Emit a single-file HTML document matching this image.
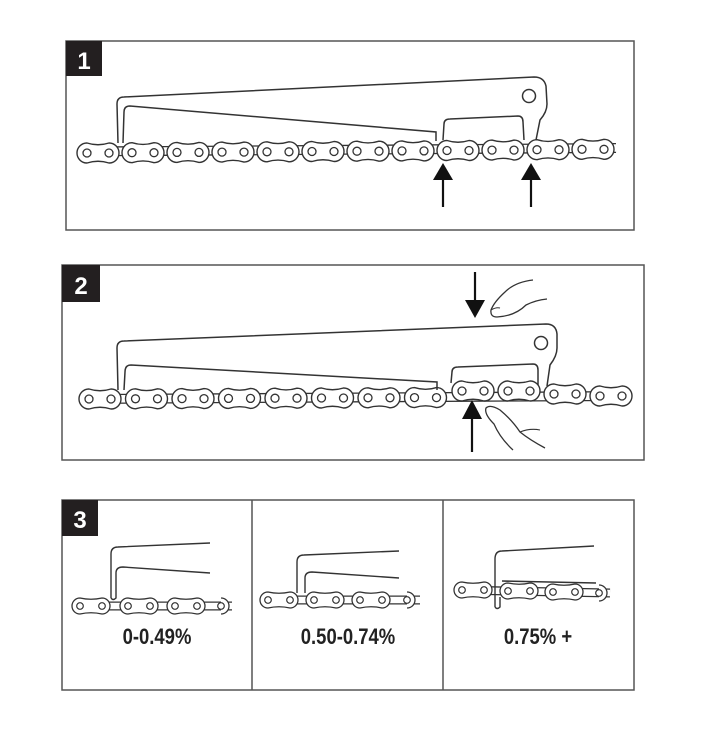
<!DOCTYPE html>
<html><head><meta charset="utf-8"><style>
html,body{margin:0;padding:0;background:#fff;width:711px;height:738px;overflow:hidden}
svg{display:block}
text{font-family:"Liberation Sans",sans-serif}
</style></head><body>
<svg width="711" height="738" viewBox="0 0 711 738" xmlns="http://www.w3.org/2000/svg">
<defs>
<g id="lk">
<path d="M0,-10 Q11,-6.5 22,-10 A10,10 0 0 1 22,10 Q11,6.5 0,10 A10,10 0 0 1 0,-10 Z" fill="#fff" stroke="#333" stroke-width="1.4"/>
<circle cx="0" cy="0" r="4" fill="#fff" stroke="#333" stroke-width="1.3"/>
<circle cx="22" cy="0" r="4" fill="#fff" stroke="#333" stroke-width="1.3"/>
</g>
<g id="sl">
<path d="M0,-8 Q11,-5.5 22,-8 A8,8 0 0 1 22,8 Q11,5.5 0,8 A8,8 0 0 1 0,-8 Z" fill="#fff" stroke="#333" stroke-width="1.3"/>
<circle cx="0" cy="0" r="3.3" fill="#fff" stroke="#333" stroke-width="1.2"/>
<circle cx="22" cy="0" r="3.3" fill="#fff" stroke="#333" stroke-width="1.2"/>
</g>
</defs>

<!-- Panel 1 -->
<rect x="66" y="41" width="568" height="189" fill="#fff" stroke="#555" stroke-width="1.5"/>
<rect x="66" y="41" width="36" height="35" fill="#231f20"/>
<text x="84" y="69" fill="#fff" font-size="24" font-weight="bold" text-anchor="middle">1</text>
<line x1="80" y1="151.5" x2="616" y2="148" stroke="#333" stroke-width="10"/>
<line x1="80" y1="151.5" x2="616" y2="148" stroke="#fff" stroke-width="7.4"/>
<g>
<use href="#lk" x="87" y="153"/><use href="#lk" x="132" y="152.7"/><use href="#lk" x="177" y="152.4"/><use href="#lk" x="222" y="152.1"/><use href="#lk" x="267" y="151.8"/><use href="#lk" x="312" y="151.5"/><use href="#lk" x="357" y="151.2"/><use href="#lk" x="402" y="150.9"/><use href="#lk" x="447" y="150.5"/><use href="#lk" x="492" y="150.1"/><use href="#lk" x="537" y="149.7"/><use href="#lk" x="582" y="149.3"/>
</g>
<path d="M118,143 L117,104 Q117,97 124,97 L534,77 Q544,77 546,86 L547,104 Q547,112 540,120 L536,140" fill="none" stroke="#333" stroke-width="1.5"/>
<path d="M123,143 L124,112 Q124,106 130,106 L436,132 L436,141" fill="none" stroke="#333" stroke-width="1.5"/>
<path d="M443,140 L444,124 Q444,119 450,119 L518,116 Q523,116 523,122 L524,140" fill="none" stroke="#333" stroke-width="1.5"/>
<circle cx="529" cy="96" r="6.5" fill="#fff" stroke="#333" stroke-width="1.5"/>
<path d="M443,207 L443,178" stroke="#111" stroke-width="2.2"/><path d="M433,180 L443,163 L453,180 Z" fill="#111"/>
<path d="M531,207 L531,178" stroke="#111" stroke-width="2.2"/><path d="M521,180 L531,163 L541,180 Z" fill="#111"/>

<!-- Panel 2 -->
<rect x="62" y="265" width="582" height="195" fill="#fff" stroke="#555" stroke-width="1.5"/>
<rect x="62" y="265" width="38" height="37" fill="#231f20"/>
<text x="81" y="294" fill="#fff" font-size="24" font-weight="bold" text-anchor="middle">2</text>
<line x1="80" y1="399" x2="630" y2="396" stroke="#333" stroke-width="10"/>
<line x1="80" y1="399" x2="630" y2="396" stroke="#fff" stroke-width="7.4"/>
<g>
<use href="#lk" x="89" y="399"/><use href="#lk" x="135.5" y="398.8"/><use href="#lk" x="182" y="398.6"/><use href="#lk" x="228.5" y="398.4"/><use href="#lk" x="275" y="398.2"/><use href="#lk" x="321.5" y="398"/><use href="#lk" x="368" y="397.8"/><use href="#lk" x="414.5" y="397.6"/><use href="#lk" x="462" y="391"/><use href="#lk" x="508" y="391"/><use href="#lk" x="554" y="394"/><use href="#lk" x="600" y="396"/>
</g>
<path d="M118,390 L117,348 Q117,341 124,341 L546,324 Q556,324 557,334 L557,348 Q557,356 550,365 L547,386" fill="none" stroke="#333" stroke-width="1.5"/>
<path d="M124,390 L125,372 Q125,365 131,365 L437,382 L437,390" fill="none" stroke="#333" stroke-width="1.5"/>
<path d="M451,383 L452,372 Q452,367 458,367 L533,364 Q538,364 538,370 L538,385" fill="none" stroke="#333" stroke-width="1.5"/>
<circle cx="541" cy="343" r="6.5" fill="#fff" stroke="#333" stroke-width="1.5"/>
<path d="M475,272 L475,302" stroke="#111" stroke-width="2.2"/><path d="M465,300 L475,318 L485,300 Z" fill="#111"/>
<path d="M472,452 L472,418" stroke="#111" stroke-width="2.2"/><path d="M462,419 L472,400 L482,419 Z" fill="#111"/>
<path d="M533,280 Q515,282 505,292 Q494,302 491,310 Q490,317 497,317 Q515,316 526,305 Q536,300 547,299" fill="none" stroke="#333" stroke-width="1.3"/>
<path d="M491,310 Q496,307 500,308" fill="none" stroke="#333" stroke-width="1"/>
<path d="M545,448 Q530,440 520,432 Q512,420 500,410 Q490,404 486,408 Q484,414 494,424 Q500,438 513,450" fill="none" stroke="#333" stroke-width="1.3"/>
<path d="M520,432 Q530,428 540,430" fill="none" stroke="#333" stroke-width="1.1"/>

<!-- Panel 3 -->
<rect x="62" y="500" width="572" height="190" fill="#fff" stroke="#555" stroke-width="1.5"/>
<line x1="252" y1="500" x2="252" y2="690" stroke="#555" stroke-width="1.5"/>
<line x1="443" y1="500" x2="443" y2="690" stroke="#555" stroke-width="1.5"/>
<rect x="62" y="500" width="36" height="36" fill="#231f20"/>
<text x="80" y="528" fill="#fff" font-size="24" font-weight="bold" text-anchor="middle">3</text>

<!-- a -->
<line x1="74" y1="606" x2="232" y2="606" stroke="#333" stroke-width="9"/>
<line x1="74" y1="606" x2="232" y2="606" stroke="#fff" stroke-width="6.4"/>
<use href="#sl" x="80" y="606"/><use href="#sl" x="128" y="606"/><use href="#sl" x="175" y="606"/>
<path d="M221,598 A8,8 0 0 1 221,614" fill="#fff" stroke="#333" stroke-width="1.3"/>
<circle cx="221" cy="606" r="3.3" fill="#fff" stroke="#333" stroke-width="1.2"/>
<path d="M111,598 L111,554 Q111,547 118,547 L210,543" fill="none" stroke="#333" stroke-width="1.4"/>
<path d="M111,598 Q113,601 116,598 L116,573 Q116,567 123,567 L210,573" fill="none" stroke="#333" stroke-width="1.4"/>
<text x="157" y="644" font-size="22" font-weight="bold" text-anchor="middle" fill="#222" transform="translate(157,0) scale(0.84,1) translate(-157,0)">0-0.49%</text>

<!-- b -->
<line x1="262" y1="600" x2="420" y2="600" stroke="#333" stroke-width="9"/>
<line x1="262" y1="600" x2="420" y2="600" stroke="#fff" stroke-width="6.4"/>
<use href="#sl" x="268" y="600"/><use href="#sl" x="314" y="600"/><use href="#sl" x="360" y="600"/>
<path d="M407,592 A8,8 0 0 1 407,608" fill="#fff" stroke="#333" stroke-width="1.3"/>
<circle cx="407" cy="600" r="3.3" fill="#fff" stroke="#333" stroke-width="1.2"/>
<path d="M297,593 L297,562 Q297,555 304,555 L399,551" fill="none" stroke="#333" stroke-width="1.4"/>
<path d="M305,593 L305,578 Q305,572 312,572 L399,578" fill="none" stroke="#333" stroke-width="1.4"/>
<text x="348" y="644" font-size="22" font-weight="bold" text-anchor="middle" fill="#222" transform="translate(348,0) scale(0.84,1) translate(-348,0)">0.50-0.74%</text>

<!-- c -->
<line x1="456" y1="590" x2="610" y2="593" stroke="#333" stroke-width="9"/>
<line x1="456" y1="590" x2="610" y2="593" stroke="#fff" stroke-width="6.4"/>
<use href="#sl" x="462" y="590"/><use href="#sl" x="508" y="591"/><use href="#sl" x="553" y="592"/>
<path d="M599,585 A8,8 0 0 1 599,601" fill="#fff" stroke="#333" stroke-width="1.3"/>
<circle cx="599" cy="593" r="3.3" fill="#fff" stroke="#333" stroke-width="1.2"/>
<path d="M495,607 L495,559 Q495,551 502,551 L594,546" fill="none" stroke="#333" stroke-width="1.4"/>
<path d="M495,607 Q497,610 500,607 L500,597" fill="none" stroke="#333" stroke-width="1.4"/>
<path d="M502,581 L596,583" stroke="#333" stroke-width="1.6"/>
<text x="538" y="644" font-size="22" font-weight="bold" text-anchor="middle" fill="#222" transform="translate(538,0) scale(0.84,1) translate(-538,0)">0.75% +</text>
</svg>
</body></html>
